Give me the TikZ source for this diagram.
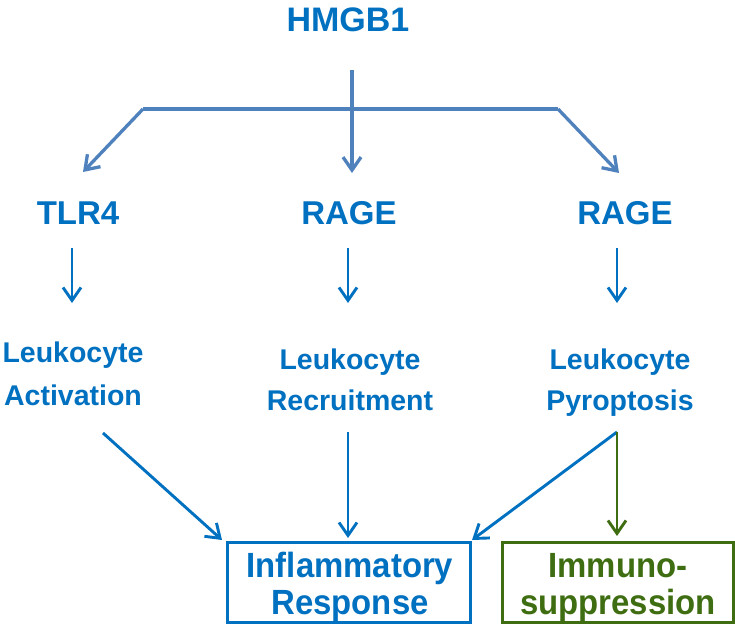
\documentclass[tikz,border=0pt]{standalone}
\usepackage{fontspec}
\setmainfont{Liberation Sans}
\newfontfamily\boxfont[FakeStretch=0.94]{Liberation Sans}
\usetikzlibrary{arrows.meta}
\definecolor{tblue}{HTML}{0070C0}
\definecolor{sblue}{HTML}{4F81BD}
\definecolor{tgreen}{HTML}{3F6E12}
\tikzset{
  lbl/.style={text=tblue, font=\bfseries, inner sep=0pt, anchor=base, align=center},
  big/.style={lbl, font=\bfseries\fontsize{33}{40}\selectfont},
  mid/.style={lbl, font=\bfseries\fontsize{28.5}{41}\selectfont},
  boxtxt/.style={lbl, font=\boxfont\bfseries\fontsize{35}{37}\selectfont},
  toparr/.style={draw=sblue, line width=3.3pt, -{Straight Barb[length=13pt,width=18pt,line width=3.3pt]}},
  botarr/.style={draw=tblue, line width=2.9pt, -{Straight Barb[length=13pt,width=18pt,line width=2.9pt]}},
  grnarr/.style={draw=tgreen, line width=2.9pt, -{Straight Barb[length=13pt,width=18pt,line width=2.9pt]}},
  frame/.style={line width=3pt}
}
\begin{document}
\begin{tikzpicture}[x=1pt,y=-1pt]
\useasboundingbox (0,0) rectangle (735,628);
\fill[white] (0,0) rectangle (735,628);
% top label
\node[big, font=\bfseries\fontsize{34}{40}\selectfont] (hmgb) at (348,32) {HMGB1};
% receptors
\node[big] (tlr) at (78,224) {TLR4};
\node[big] (rage1) at (349,224) {RAGE};
\node[big] (rage2) at (625,224) {RAGE};
% leukocyte effects (base = last line)
\node[mid, font=\bfseries\fontsize{28.5}{43}\selectfont] (act) at (73,405) {Leukocyte\\Activation};
\node[mid] (rec) at (350,410) {Leukocyte\\Recruitment};
\node[mid] (pyr) at (620,410) {Leukocyte\\Pyroptosis};
% outcome boxes
\draw[tblue, frame] (227,542) rectangle (470,622);
\draw[tgreen, frame] (502,542) rectangle (733,622);
\node[boxtxt] (inf) at (350,614) {Inflammatory\\Response};
\node[boxtxt, text=tgreen] (imm) at (618,614) {Immuno-\\suppression};
% coordinates
\coordinate (hs) at (352,70);
\coordinate (hj) at (352,109);
\coordinate (hl) at (143,109);
\coordinate (hr) at (558,109);
\coordinate (tl) at (83,172);
\coordinate (tm) at (352,173);
\coordinate (tr) at (619,173);
\coordinate (a1s) at (72,248);   \coordinate (a1e) at (72,303);
\coordinate (a2s) at (348,248);  \coordinate (a2e) at (348,303);
\coordinate (a3s) at (617,248);  \coordinate (a3e) at (617,303);
\coordinate (b1s) at (103,433);  \coordinate (b1e) at (222,540);
\coordinate (b2s) at (348,432);  \coordinate (b2e) at (348,538);
\coordinate (b3s) at (617,432);  \coordinate (b3e) at (472,540);
\coordinate (g3e) at (617,536);
% top connectors
\draw[sblue, line width=3.3pt] (hl) -- (hr);
\draw[toparr] (hs) -- (tm);
\draw[toparr] (hl) -- (tl);
\draw[toparr] (hr) -- (tr);
% receptor to effect
\draw[botarr] (a1s) -- (a1e);
\draw[botarr] (a2s) -- (a2e);
\draw[botarr] (a3s) -- (a3e);
% effect to outcome
\draw[botarr] (b1s) -- (b1e);
\draw[botarr] (b2s) -- (b2e);
\draw[botarr] (b3s) -- (b3e);
\draw[grnarr] (b3s) -- (g3e);
\end{tikzpicture}
\end{document}
